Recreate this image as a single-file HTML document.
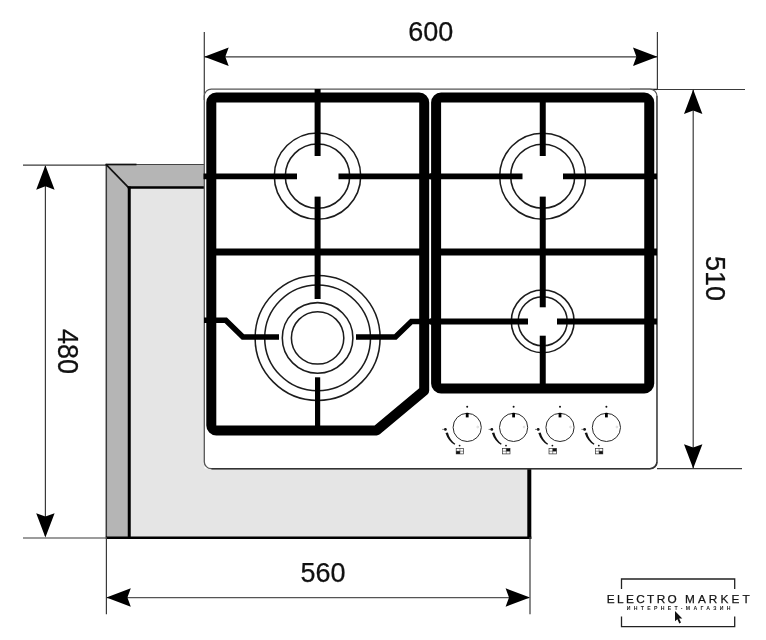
<!DOCTYPE html>
<html lang="ru"><head><meta charset="utf-8"><title>600 x 510</title>
<style>
html,body{margin:0;padding:0;background:#fff;}
body{width:766px;height:640px;overflow:hidden;}
svg{display:block;}
text{font-family:"Liberation Sans",sans-serif;fill:#111;}
svg{will-change:transform;}
text.d{stroke:#111;stroke-width:0.25px;}
</style></head><body>
<svg width="766" height="640" viewBox="0 0 766 640">
<rect width="766" height="640" fill="#fff"/>
<!-- countertop cutout -->
<g>
<polygon points="106,164 204.3,164 204.3,187.8 129,187.8" fill="#b5b5b5"/>
<polygon points="106,164 129,187.8 129,537 106,537" fill="#b5b5b5"/>
<polygon points="129,187.8 204.5,187.8 204.5,468.5 529.5,468.5 529.5,537 129,537" fill="#e5e5e5"/>
<path d="M106.3 164V537" stroke="#3a3a3a" stroke-width="1.5" fill="none"/>
<path d="M106 164.5H204.3" stroke="#444" stroke-width="1.1" fill="none"/>
<path d="M106 164.3L128.6 187.6" stroke="#111" stroke-width="1.7" fill="none"/>
<path d="M129.25 186.4V537" stroke="#000" stroke-width="3" fill="none"/>
<path d="M127.8 187.6H204.5" stroke="#000" stroke-width="2.5" fill="none"/>
<path d="M105.8 537.7H531.3" stroke="#000" stroke-width="2.4" fill="none"/>
<path d="M529.3 468.5V538.9" stroke="#000" stroke-width="4" fill="none"/>
</g>
<!-- dimension lines -->
<g stroke="#3a3a3a" stroke-width="1.2" fill="none">
<path d="M204.3 32V100"/><path d="M657.4 32V90"/><path d="M204 56.8H657"/>
<path d="M657 89.5H745"/><path d="M657 468.6H742"/><path d="M693.2 90V468"/>
<path d="M23 165.2H106"/><path d="M23 538H106"/><path d="M45.4 166V536"/>
<path d="M106.4 537V614.2"/><path d="M530 537V614.2"/><path d="M107 597.6H529" stroke-width="1.3" stroke="#555"/>
</g>
<path d="M630 89.4H657" stroke="#222" stroke-width="1.4"/>
<path d="M105.6 164.5H136.5" stroke="#111" stroke-width="1.7"/>
<path transform="translate(204.3,56.8) rotate(180)" d="M0 0L-24.4 -9.2L-21 0L-24.4 9.2Z" fill="#000"/><path transform="translate(657.4,56.8) rotate(0)" d="M0 0L-24.4 -9.2L-21 0L-24.4 9.2Z" fill="#000"/><path transform="translate(693.2,89.5) rotate(-90)" d="M0 0L-24.4 -9.2L-21 0L-24.4 9.2Z" fill="#000"/><path transform="translate(693.2,468.6) rotate(90)" d="M0 0L-24.4 -9.2L-21 0L-24.4 9.2Z" fill="#000"/><path transform="translate(45.4,165.3) rotate(-90)" d="M0 0L-24.4 -9.2L-21 0L-24.4 9.2Z" fill="#000"/><path transform="translate(45.4,537.6) rotate(90)" d="M0 0L-24.4 -9.2L-21 0L-24.4 9.2Z" fill="#000"/><path transform="translate(106.4,597.5) rotate(180)" d="M0 0L-24.4 -9.2L-21 0L-24.4 9.2Z" fill="#000"/><path transform="translate(530,597.5) rotate(0)" d="M0 0L-24.4 -9.2L-21 0L-24.4 9.2Z" fill="#000"/>
<!-- hob body -->
<rect x="204.3" y="89.1" width="452.65" height="379.6" rx="7" ry="7" fill="#fff" stroke="#555" stroke-width="1.3"/>
<path d="M211.5 468.7H650A7 7 0 0 0 656.95 461.7" fill="none" stroke="#333" stroke-width="1.6"/><path d="M656.95 461.7V96" fill="none" stroke="#555" stroke-width="1.5"/>
<!-- burners -->
<g fill="none" stroke="#1c1c1c" stroke-width="1.55">
<circle cx="317.5" cy="176.1" r="43.2"/><circle cx="317.5" cy="176.1" r="32.2"/>
<circle cx="542.7" cy="176.2" r="43"/><circle cx="542.7" cy="176.2" r="32"/>
<circle cx="542.7" cy="321.3" r="31.4"/><circle cx="542.7" cy="321.3" r="24.5"/>
<circle cx="317.6" cy="337.9" r="62.5"/><circle cx="317.6" cy="337.9" r="52.9"/>
<circle cx="317.6" cy="337.9" r="35.3"/><circle cx="317.6" cy="337.9" r="26.2"/>
</g>
<!-- left grate -->
<g fill="none" stroke="#000" stroke-linejoin="round">
<path d="M211.3 102.6 A5 5 0 0 1 216.3 97.6 H419.2 A5 5 0 0 1 424.2 102.6 V390.6 L376.6 430.4 H216.3 A5 5 0 0 1 211.3 425.4 Z" stroke-width="10" stroke-linejoin="round"/>
<path d="M317.6 89V156" stroke-width="6"/>
<path d="M317.6 196.6V252" stroke-width="6"/>
<path d="M203.5 176.4H297" stroke-width="5.8"/>
<path d="M338.5 176.4H433" stroke-width="5.8"/>
<path d="M211 251.9H425" stroke-width="7"/>
<path d="M317.6 252V299" stroke-width="6"/>
<path d="M317.6 377.3V430" stroke-width="5.2"/>
<path d="M204 320.2H225.8L242.9 337H279" stroke-width="5.6" stroke-linejoin="miter"/>
<path d="M356 337H395.4L411.4 321.5H433" stroke-width="5.6" stroke-linejoin="miter"/>
</g>
<!-- right grate -->
<g fill="none" stroke="#000" stroke-linejoin="round">
<path d="M436.1 102.6 A5 5 0 0 1 441.1 97.6 H644.25 A5 5 0 0 1 649.25 102.6 V383.4 A5 5 0 0 1 644.25 388.4 H441.1 A5 5 0 0 1 436.1 383.4 Z" stroke-width="10"/>
<path d="M542.75 98V156" stroke-width="6"/>
<path d="M542.75 196.6V307.3" stroke-width="6"/>
<path d="M542.75 335.7V389" stroke-width="6"/>
<path d="M430 176.4H522.5" stroke-width="5.8"/>
<path d="M563 176.4H657" stroke-width="5.8"/>
<path d="M436 251.9H657" stroke-width="7"/>
<path d="M430 321.5H528" stroke-width="5.8"/>
<path d="M557 321.5H657" stroke-width="5.8"/>
</g>
<!-- knobs -->
<g transform="translate(467.2,427.4)"><circle r="14.1" fill="#fff" stroke="#2a2a2a" stroke-width="1"/><rect x="-1.4" y="-14.5" width="2.8" height="4.5" fill="#000"/><circle cx="0" cy="-20.7" r="1" fill="#111"/><circle cx="10.5" cy="-0.4" r="0.9" fill="none" stroke="#bbb" stroke-width="0.5"/><circle cx="-21.8" cy="2" r="1.4" fill="#111"/><path d="M-25 2H-22" stroke="#333" stroke-width="0.6"/><path d="M-21.7 5.5 A22.5 22.5 0 0 0 -12.7 17.4 L-11.9 16.4 A20.3 20.3 0 0 1 -19.3 5.0 Z" fill="#111"/><circle cx="-7.6" cy="18.2" r="0.9" fill="#111"/><rect x="-11" y="21.1" width="7.4" height="5.4" fill="#fff" stroke="#333" stroke-width="0.7"/><path d="M-7.3 21.1V26.5M-11 23.8H-3.6" stroke="#333" stroke-width="0.5"/><rect x="-11" y="23.8" width="3.7" height="2.7" fill="#111"/></g><g transform="translate(513.6,427.4)"><circle r="14.1" fill="#fff" stroke="#2a2a2a" stroke-width="1"/><rect x="-1.4" y="-14.5" width="2.8" height="4.5" fill="#000"/><circle cx="0" cy="-20.7" r="1" fill="#111"/><circle cx="10.5" cy="-0.4" r="0.9" fill="none" stroke="#bbb" stroke-width="0.5"/><circle cx="-21.8" cy="2" r="1.4" fill="#111"/><path d="M-25 2H-22" stroke="#333" stroke-width="0.6"/><path d="M-21.7 5.5 A22.5 22.5 0 0 0 -12.7 17.4 L-11.9 16.4 A20.3 20.3 0 0 1 -19.3 5.0 Z" fill="#111"/><circle cx="-7.6" cy="18.2" r="0.9" fill="#111"/><rect x="-11" y="21.1" width="7.4" height="5.4" fill="#fff" stroke="#333" stroke-width="0.7"/><path d="M-7.3 21.1V26.5M-11 23.8H-3.6" stroke="#333" stroke-width="0.5"/><rect x="-7.3" y="21.1" width="3.7" height="2.7" fill="#111"/></g><g transform="translate(560.0,427.4)"><circle r="14.1" fill="#fff" stroke="#2a2a2a" stroke-width="1"/><rect x="-1.4" y="-14.5" width="2.8" height="4.5" fill="#000"/><circle cx="0" cy="-20.7" r="1" fill="#111"/><circle cx="10.5" cy="-0.4" r="0.9" fill="none" stroke="#bbb" stroke-width="0.5"/><circle cx="-21.8" cy="2" r="1.4" fill="#111"/><path d="M-25 2H-22" stroke="#333" stroke-width="0.6"/><path d="M-21.7 5.5 A22.5 22.5 0 0 0 -12.7 17.4 L-11.9 16.4 A20.3 20.3 0 0 1 -19.3 5.0 Z" fill="#111"/><circle cx="-7.6" cy="18.2" r="0.9" fill="#111"/><rect x="-11" y="21.1" width="7.4" height="5.4" fill="#fff" stroke="#333" stroke-width="0.7"/><path d="M-7.3 21.1V26.5M-11 23.8H-3.6" stroke="#333" stroke-width="0.5"/><rect x="-7.3" y="21.1" width="3.7" height="2.7" fill="#111"/></g><g transform="translate(606.4,427.4)"><circle r="14.1" fill="#fff" stroke="#2a2a2a" stroke-width="1"/><rect x="-1.4" y="-14.5" width="2.8" height="4.5" fill="#000"/><circle cx="0" cy="-20.7" r="1" fill="#111"/><circle cx="10.5" cy="-0.4" r="0.9" fill="none" stroke="#bbb" stroke-width="0.5"/><circle cx="-21.8" cy="2" r="1.4" fill="#111"/><path d="M-25 2H-22" stroke="#333" stroke-width="0.6"/><path d="M-21.7 5.5 A22.5 22.5 0 0 0 -12.7 17.4 L-11.9 16.4 A20.3 20.3 0 0 1 -19.3 5.0 Z" fill="#111"/><circle cx="-7.6" cy="18.2" r="0.9" fill="#111"/><rect x="-11" y="21.1" width="7.4" height="5.4" fill="#fff" stroke="#333" stroke-width="0.7"/><path d="M-7.3 21.1V26.5M-11 23.8H-3.6" stroke="#333" stroke-width="0.5"/><rect x="-7.3" y="23.8" width="3.7" height="2.7" fill="#111"/></g>
<!-- dimension text -->
<text x="430.8" y="40.7" font-size="27" text-anchor="middle" class="d">600</text>
<text x="323" y="582" font-size="27" text-anchor="middle" class="d">560</text>
<text transform="translate(706.4,278.5) rotate(90) scale(1,1.05)" font-size="27" text-anchor="middle" class="d">510</text>
<text transform="translate(58.4,351.6) rotate(90) scale(1,1.07)" font-size="27" text-anchor="middle" class="d">480</text>
<!-- logo -->
<g fill="none" stroke="#222" stroke-width="1.3">
<path d="M621.5 589V579H734.7V589"/>
<path d="M621.5 616.6V626.6H734.7V616.6"/>
</g>
<text x="606.8" y="603.4" font-size="11.8" textLength="70" lengthAdjust="spacing" style="fill:#111;stroke:#111;stroke-width:0.25">ELECTRO</text><text x="685" y="603.4" font-size="11.8" textLength="64.6" lengthAdjust="spacing" style="fill:#111;stroke:#111;stroke-width:0.25">MARKET</text>
<text x="626.8" y="609.6" font-size="5.2" font-weight="bold" textLength="103.8" lengthAdjust="spacing" style="fill:#222">ИНТЕРНЕТ-МАГАЗИН</text>
<path d="M675 611L675 621.3L677.4 619.2L679.3 623.4L681 622.6L679.1 618.6L682.3 618.4Z" fill="#111"/>
</svg>
</body></html>
